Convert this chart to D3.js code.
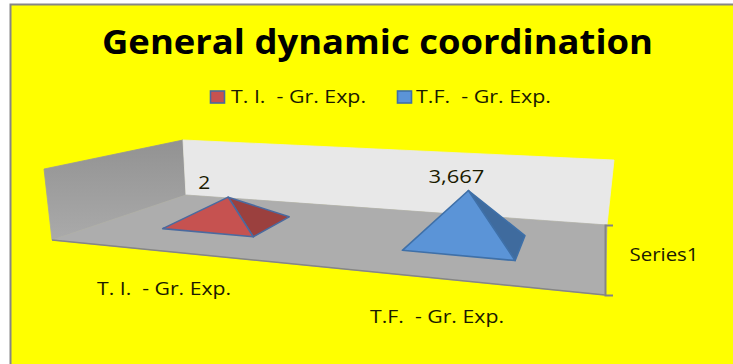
<!DOCTYPE html>
<html>
<head>
<meta charset="utf-8">
<script src="https://cdn.jsdelivr.net/npm/d3@7"></script>
<style>
  html, body { margin: 0; padding: 0; background: #fff; }
  svg { display: block; }
  text { font-family: "Open Sans", sans-serif; fill: #1a1a00; white-space: pre; }
</style>
</head>
<body>
<div id="chart"></div>
<script>
// Chart content
const chartTitle = "General dynamic coordination";
const categories = ["T. I.  - Gr. Exp.", "T.F.  - Gr. Exp."];
const values = [2, 3.667];
const seriesName = "Series1";
const frontColors = ["#c65250", "#5b94d7"];
const sideColors = ["#9b403e", "#3f6b9e"];
const edgeColors = ["#4a6a9f", "#3f70a8"];

const width = 733, height = 364;
const svg = d3.select("#chart").append("svg")
  .attr("width", width).attr("height", height);

// Sheet and frame
svg.append("rect").attr("x", 10).attr("y", 4)
  .attr("width", width - 10).attr("height", height - 4).attr("fill", "#ffff00");
svg.append("path").attr("d", `M10.5,${height}V4.5H${width}`)
  .attr("fill", "none").attr("stroke", "#868686").attr("stroke-width", 2);

// Corners of the floor in page space
const FL = [52, 240], FR = [605, 295], BL = [186, 195], BR = [607, 225];
const lerp = (a, b, t) => [a[0] + (b[0] - a[0]) * t, a[1] + (b[1] - a[1]) * t];
const floorPoint = (u, v) => lerp(lerp(FL, FR, u), lerp(BL, BR, u), v);

const defs = svg.append("defs");
const wallGrad = defs.append("linearGradient").attr("id", "sideWall")
  .attr("x1", 0).attr("y1", 0).attr("x2", 0).attr("y2", 1);
wallGrad.append("stop").attr("offset", "0%").attr("stop-color", "#929292");
wallGrad.append("stop").attr("offset", "100%").attr("stop-color", "#aaaaaa");

const poly = pts => d3.line()(pts) + "Z";

// Walls and floor; the thin same-colour strokes close the seams between panels
svg.append("path").attr("d", poly([[44, 169], [183, 140], BL, FL]))
  .attr("fill", "url(#sideWall)").attr("stroke", "url(#sideWall)").attr("stroke-width", 0.8);
svg.append("path").attr("d", poly([[183, 140], [614, 160], BR, BL]))
  .attr("fill", "#e8e8e8").attr("stroke", "#e8e8e8").attr("stroke-width", 0.8);
svg.append("path").attr("d", poly([FL, BL, BR, FR]))
  .attr("fill", "#adadad").attr("stroke", "#adadad").attr("stroke-width", 0.8);
svg.append("path").attr("d", d3.line()([FL, FR])).attr("fill", "none")
  .attr("stroke", "#858585").attr("stroke-width", 1.5);

// Series axis on the right edge of the floor
const seriesScale = d3.scaleBand().domain([seriesName]).range([BR[1], FR[1]]);
const seriesAxis = svg.append("g").attr("transform", `translate(${FR[0]},0)`)
  .call(d3.axisRight(seriesScale).tickSize(0).tickPadding(24.5).tickSizeOuter(8));
seriesAxis.select(".domain").attr("stroke", "#858585").attr("stroke-width", 2);
seriesAxis.selectAll("text")
  .attr("y", -5).attr("dy", "0.32em")
  .attr("textLength", 69).attr("lengthAdjust", "spacingAndGlyphs")
  .style("font-family", '"Open Sans", sans-serif').style("font-size", "18px").attr("fill", "#1a1a00");

// Scales: category along the floor, value upward, apparent height grows toward the right
const uScale = d3.scalePoint().domain(categories).range([0.21, 0.708]);
const halfWidth = d3.scaleLinear().domain([0.21, 0.708]).range([0.09, 0.112]);
const unitHeight = d3.scaleLinear().domain([0, 1]).range([12.4, 15.3]);
const depthCenter = 0.565, depthHalf = 0.19;

const labelFormat = d3.formatLocale({ decimal: ",", thousands: ".", grouping: [3], currency: ["", ""] }).format("~g");
const labelOffsets = [[-24, -8], [-12, -8]];
const labelWidths = [12, 56];

categories.forEach((cat, i) => {
  const u = uScale(cat), hw = halfWidth(u);
  const centre = floorPoint(u, depthCenter);
  const apex = [centre[0] + 2 * i, centre[1] - values[i] * unitHeight(u)];
  const frontL = floorPoint(u - hw, depthCenter - depthHalf);
  const frontR = floorPoint(u + hw, depthCenter - depthHalf);
  const backR = floorPoint(u + hw, depthCenter + depthHalf);
  const g = svg.append("g").attr("stroke", edgeColors[i]).attr("stroke-width", 1.6).attr("stroke-linejoin", "round");
  g.append("path").attr("d", poly([frontR, backR, apex])).attr("fill", sideColors[i]);
  g.append("path").attr("d", poly([frontL, frontR, apex])).attr("fill", frontColors[i]);
  svg.append("text")
    .attr("x", apex[0] + labelOffsets[i][0]).attr("y", apex[1] + labelOffsets[i][1])
    .attr("text-anchor", "middle").attr("font-size", 18)
    .attr("textLength", labelWidths[i]).attr("lengthAdjust", "spacingAndGlyphs")
    .text(labelFormat(values[i]));
});

// Title
svg.append("text").attr("x", 102).attr("y", 54)
  .attr("textLength", 551).attr("lengthAdjust", "spacingAndGlyphs")
  .attr("font-size", 33.5).attr("font-weight", 700).attr("style", "fill:#000")
  .text(chartTitle);

// Legend
const legendSwatchX = [210.5, 397.5], legendTextX = [231, 416];
categories.forEach((cat, i) => {
  svg.append("rect").attr("x", legendSwatchX[i]).attr("y", 91).attr("width", 14).attr("height", 12)
    .attr("fill", frontColors[i]).attr("stroke", edgeColors[i]).attr("stroke-width", 1.6);
  svg.append("text").attr("x", legendTextX[i]).attr("y", 103)
    .attr("textLength", 135).attr("lengthAdjust", "spacingAndGlyphs")
    .attr("font-size", 18).text(cat);
});

// Category labels under the floor
const categoryLabelX = [97, 370], categoryLabelY = [295, 323];
categories.forEach((cat, i) => {
  svg.append("text").attr("x", categoryLabelX[i]).attr("y", categoryLabelY[i])
    .attr("textLength", 134).attr("lengthAdjust", "spacingAndGlyphs")
    .attr("font-size", 18).text(cat);
});
</script>
</body>
</html>
